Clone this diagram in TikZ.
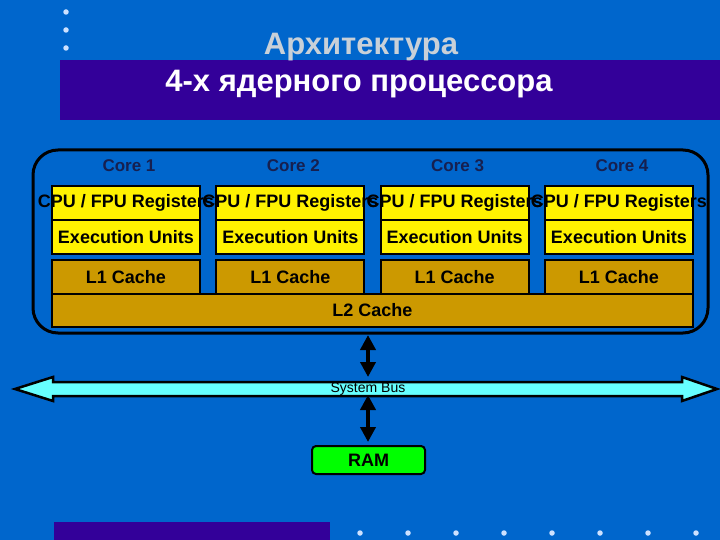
\documentclass[tikz,border=0pt]{standalone}
\usepackage{fontspec}
\setmainfont{Liberation Sans}
\usetikzlibrary{arrows.meta}
\definecolor{bg}{RGB}{0,102,204}
\definecolor{band}{RGB}{51,0,153}
\definecolor{gold}{RGB}{204,153,0}
\definecolor{corec}{RGB}{22,32,80}
\definecolor{cyanb}{RGB}{102,255,255}
\definecolor{dotc}{RGB}{205,225,255}
\definecolor{ramg}{RGB}{0,255,0}
\definecolor{titleg}{RGB}{200,208,216}
\begin{document}
\begin{tikzpicture}[x=1pt,y=-1pt,
  box/.style={draw=black, line width=2pt, minimum width=148pt, minimum height=34pt, inner sep=0pt, anchor=north west},
  yel/.style={box, fill=yellow},
  gld/.style={box, fill=gold},
  btxt/.style={font=\bfseries\fontsize{18}{20}\selectfont, text=black, inner sep=0pt},
  coretxt/.style={font=\bfseries\fontsize{17}{20}\selectfont, text=corec, anchor=base, inner sep=0pt},
  dot/.style={circle, fill=dotc, minimum size=5.5pt, inner sep=0pt},
  dbl/.style={{Triangle[length=15pt,width=15pt]}-{Triangle[length=15pt,width=15pt]}, line width=4.5pt, draw=black}]
% background
\fill[bg] (0,0) rectangle (720,540);
\useasboundingbox (0,0) rectangle (720,540);
\fill[band] (60,60) rectangle (720,120);
\fill[band] (54,522) rectangle (330,540);
% dots
\foreach \y [count=\i] in {12,30,48} \node[dot] (dl\i) at (66,\y) {};
\foreach \x [count=\i] in {360,408,456,504,552,600,648,696} \node[dot] (db\i) at (\x,533) {};
% titles
\node[font=\bfseries\fontsize{31}{34}\selectfont, text=titleg, anchor=base, inner sep=0pt] (t1) at (361,55) {Архитектура};
\node[font=\bfseries\fontsize{31}{34}\selectfont, text=white, anchor=base, inner sep=0pt] (t2) at (359,92) {4-х ядерного процессора};
% chip outline
\node[draw=black, line width=3pt, rounded corners=25pt, minimum width=675pt, minimum height=183pt, inner sep=0pt] (chip) at (370.5,241.5) {};
% cores
\foreach \i in {1,2,3,4}{
  \pgfmathsetmacro{\xx}{51+(\i-1)*164.33}
  \node[yel] (r\i) at (\xx,185) {};
  \node[yel] (e\i) at (\xx,219) {};
  \node[gld] (c\i) at (\xx,259) {};
  \node[btxt] (rt\i) at (r\i.center) {CPU / FPU Registers};
  \node[btxt] (et\i) at (e\i.center) {Execution Units};
  \node[btxt] (ct\i) at (c\i.center) {L1 Cache};
  \node[coretxt] (k\i) at ([xshift=3pt]r\i.north |- 0,172) {Core \i};
}
\node[draw=black, line width=2pt, fill=gold, minimum width=641pt, minimum height=33pt, inner sep=0pt, anchor=north west] (l2) at (51,293) {};
\node[btxt] (l2t) at (l2.center) {L2 Cache};
% system bus
\draw[fill=cyanb, draw=black, line width=2.5pt, line join=miter] (15,389) -- (53,377) -- (53,382) -- (682,382) -- (682,377) -- (717,389) -- (682,401) -- (682,396) -- (53,396) -- (53,401) -- cycle;
\node[font=\fontsize{14}{16}\selectfont, text=black, inner sep=0pt] (bus) at (368,389) {System Bus};
\coordinate (busN) at (368,382);
\coordinate (busS) at (368,396);
% RAM
\node[draw=black, line width=2pt, fill=ramg, rounded corners=4pt, minimum width=113pt, minimum height=28pt, inner sep=0pt, font=\bfseries\fontsize{18}{20}\selectfont] (ram) at (368.5,460) {RAM};
% connectors
\draw[dbl, shorten <=7pt, shorten >=5pt] (l2.south -| busN) -- (busN);
\draw[dbl, shorten <=-1pt, shorten >=3pt] (busS) -- (ram.north -| busS);
\end{tikzpicture}
\end{document}
